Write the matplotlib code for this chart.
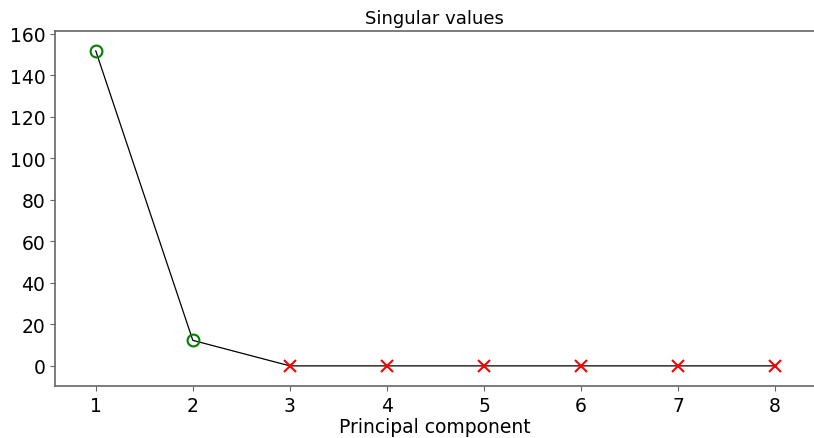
import matplotlib
matplotlib.use("Agg")
import matplotlib.pyplot as plt

# singular values of the 8 principal components
components = [1, 2, 3, 4, 5, 6, 7, 8]
singular_values = [151.8, 12.3, 0.0, 0.0, 0.0, 0.0, 0.0, 0.0]
n_kept = 2

fig = plt.figure(figsize=(8.14, 4.39), dpi=100)
ax = fig.add_axes([55 / 814, 52 / 439, 1 - 55 / 814, 355 / 439])

ax.plot(components, singular_values, color="black", linewidth=0.9, zorder=1)
ax.plot(components[:n_kept], singular_values[:n_kept], linestyle="none",
        marker="o", markersize=8.5, markerfacecolor="none",
        markeredgecolor="green", markeredgewidth=1.5, zorder=2)
ax.plot(components[n_kept:], singular_values[n_kept:], linestyle="none",
        marker="x", markersize=8.5, color="red", markeredgewidth=1.5, zorder=2)

ax.set_xlim(0.58, 8.4)
ax.set_ylim(-9.7, 161.4)
ax.set_xticks(components)
ax.set_yticks(range(0, 161, 20))

for side in ("left", "bottom", "top"):
    ax.spines[side].set_color("#666666")
    ax.spines[side].set_linewidth(1.2)
ax.spines["right"].set_visible(False)
ax.tick_params(colors="#666666", labelcolor="black", labelsize=13.5)

ax.set_title("Singular values", fontsize=13)
ax.set_xlabel("Principal component", fontsize=13.5, labelpad=2)

fig.savefig("out.png", dpi=100)
